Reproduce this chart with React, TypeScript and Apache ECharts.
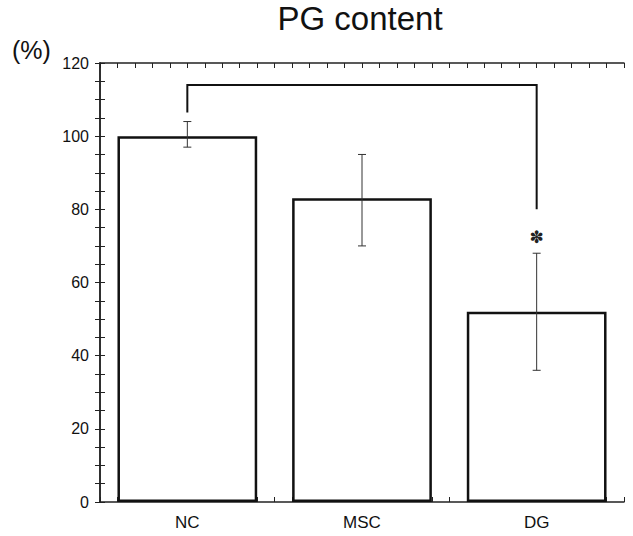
import React, { useEffect, useRef } from "react";
import * as echarts from "echarts";

const categories = ["NC", "MSC", "DG"];
const means = [100, 83, 52];
const errLow = [97, 70, 36];
const errHigh = [104, 95, 68];
const yTicks = { min: 0, max: 120, interval: 5, labelEvery: 20 };
// significance bracket: [fromIndex, toIndex, topValue, leftEnd, rightEnd]
const bracket = [[0, 2, 114, 106.5, 80]];
const starMarks = [[2, 72.5]];

const FONT = "Liberation Sans, Arial, sans-serif";

export default function App() {
  const ref = useRef<HTMLDivElement>(null);
  useEffect(() => {
    const chart = echarts.init(ref.current!, null, { renderer: "svg" });
    const tickAxis = (pos: "top" | "bottom") => ({
      type: "value",
      position: pos,
      min: 0,
      max: 30,
      interval: 1,
      axisLine: { show: true, onZero: false, lineStyle: { color: "#222", width: 1.5 } },
      axisTick: { show: true, inside: true, length: 5, lineStyle: { color: "#222", width: 1 } },
      axisLabel: { show: false },
      splitLine: { show: false },
    });
    const yAxisBase = (pos: "left" | "right", labels: boolean) => ({
      type: "value",
      position: pos,
      min: yTicks.min,
      max: yTicks.max,
      interval: yTicks.interval,
      axisLine: { show: true, lineStyle: { color: "#222", width: 1.5 } },
      axisTick: { show: true, inside: true, length: 5, lineStyle: { color: "#222", width: 1 } },
      axisLabel: {
        show: labels,
        color: "#111",
        fontSize: 16,
        fontFamily: FONT,
        margin: 11,
        formatter: (v: number) => (v % yTicks.labelEvery === 0 ? String(v) : ""),
      },
      splitLine: { show: false },
    });
    chart.setOption({
      animation: false,
      backgroundColor: "#fff",
      grid: { left: 100, right: 9, top: 63, bottom: 34, containLabel: false },
      xAxis: [
        {
          type: "category",
          data: categories,
          position: "bottom",
          axisLine: { show: false },
          axisTick: { show: false },
          axisLabel: { color: "#111", fontSize: 17, fontFamily: FONT, margin: 12 },
          splitLine: { show: false },
        },
        tickAxis("bottom"),
        tickAxis("top"),
      ],
      yAxis: [yAxisBase("left", true), yAxisBase("right", false)],
      graphic: [
        {
          type: "text",
          x: 360,
          y: 18,
          style: { text: "PG content", font: `33px ${FONT}`, fill: "#111", textAlign: "center", textVerticalAlign: "middle" },
        },
        {
          type: "text",
          x: 12,
          y: 50,
          style: { text: "(%)", font: `25px ${FONT}`, fill: "#111", textAlign: "left", textVerticalAlign: "middle" },
        },
      ],
      series: [
        {
          type: "bar",
          xAxisIndex: 0,
          yAxisIndex: 0,
          data: means,
          barWidth: "80%",
          itemStyle: { color: "#fff", borderColor: "#111", borderWidth: 2.5 },
          z: 2,
        },
        {
          type: "custom",
          xAxisIndex: 0,
          yAxisIndex: 0,
          data: categories.map((_, i) => [i, errLow[i], errHigh[i]]),
          z: 5,
          renderItem: (params: any, api: any) => {
            const lo = api.coord([api.value(0), api.value(1)]);
            const hi = api.coord([api.value(0), api.value(2)]);
            const w = 4;
            const style = { stroke: "#333", lineWidth: 1 };
            return {
              type: "group",
              children: [
                { type: "line", shape: { x1: lo[0], y1: lo[1], x2: hi[0], y2: hi[1] }, style },
                { type: "line", shape: { x1: lo[0] - w, y1: lo[1], x2: lo[0] + w, y2: lo[1] }, style },
                { type: "line", shape: { x1: hi[0] - w, y1: hi[1], x2: hi[0] + w, y2: hi[1] }, style },
              ],
            };
          },
        },
        {
          type: "custom",
          xAxisIndex: 0,
          yAxisIndex: 0,
          data: bracket,
          z: 5,
          renderItem: (params: any, api: any) => {
            const a = api.coord([api.value(0), api.value(3)]);
            const b = api.coord([api.value(0), api.value(2)]);
            const c = api.coord([api.value(1), api.value(2)]);
            const d = api.coord([api.value(1), api.value(4)]);
            return {
              type: "polyline",
              shape: { points: [a, b, c, d] },
              style: { stroke: "#111", lineWidth: 2, fill: null },
            };
          },
        },
        {
          type: "custom",
          xAxisIndex: 0,
          yAxisIndex: 0,
          data: starMarks,
          z: 5,
          renderItem: (params: any, api: any) => {
            const p = api.coord([api.value(0), api.value(1)]);
            return {
              type: "text",
              x: p[0],
              y: p[1],
              style: { text: "✽", font: `bold 17px DejaVu Sans`, fill: "#222", textAlign: "center", textVerticalAlign: "middle" },
            };
          },
        },
      ],
    });
    return () => chart.dispose();
  }, []);
  return <div ref={ref} style={{ position: "fixed", left: 0, top: 0, width: 633, height: 536 }} />;
}
